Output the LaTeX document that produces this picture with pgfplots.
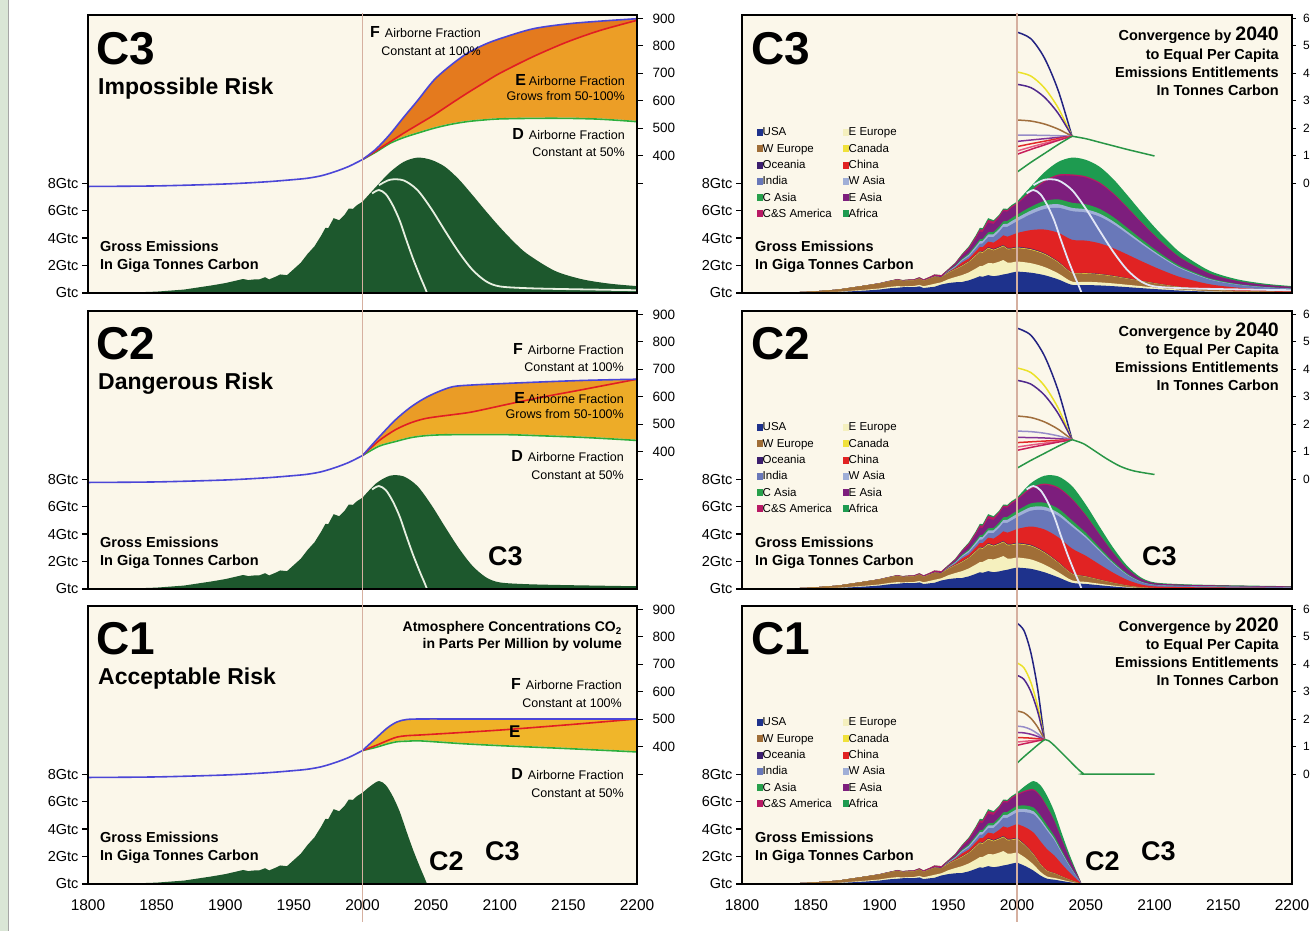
\documentclass[border=0pt]{standalone}
\usepackage{pgfplots}
\pgfplotsset{compat=1.18}
\usepackage{pgfplotstable}
\usepackage{fontspec}
\setmainfont{Liberation Sans}
\newcommand{\fs}[1]{\fontsize{#1}{#1}\selectfont}

\definecolor{cream}{RGB}{251,247,234}
\definecolor{bgg}{RGB}{218,230,214}
\definecolor{emg}{RGB}{29,88,45}
\definecolor{lF}{RGB}{75,70,215}
\definecolor{lE}{RGB}{225,30,35}
\definecolor{lD}{RGB}{45,175,60}
\definecolor{orUpA}{RGB}{228,122,30}
\definecolor{orLoA}{RGB}{236,158,38}
\definecolor{orUpB}{RGB}{234,156,38}
\definecolor{orLoB}{RGB}{237,172,40}
\definecolor{orUpC}{RGB}{239,178,40}
\definecolor{orLoC}{RGB}{240,182,42}
\definecolor{ylin}{RGB}{214,176,160}
\definecolor{wl}{RGB}{232,240,225}
\definecolor{wlr}{RGB}{226,230,246}
\definecolor{lay1}{RGB}{30,50,140}
\definecolor{lay2}{RGB}{245,240,190}
\definecolor{lay3}{RGB}{160,110,55}
\definecolor{lay4}{RGB}{240,225,60}
\definecolor{lay5}{RGB}{60,30,110}
\definecolor{lay6}{RGB}{225,35,35}
\definecolor{lay7}{RGB}{105,120,185}
\definecolor{lay8}{RGB}{160,175,215}
\definecolor{lay9}{RGB}{40,160,75}
\definecolor{lay10}{RGB}{125,30,125}
\definecolor{lay11}{RGB}{185,25,100}
\definecolor{lay12}{RGB}{30,155,80}
\definecolor{pcA}{RGB}{35,35,130}
\definecolor{pcB}{RGB}{235,225,40}
\definecolor{pcC}{RGB}{80,40,140}
\definecolor{pcD}{RGB}{160,110,60}
\definecolor{pcE}{RGB}{150,140,200}
\definecolor{pcF}{RGB}{130,50,150}
\definecolor{pcG}{RGB}{225,40,40}
\definecolor{pcH}{RGB}{230,90,130}
\definecolor{pcI}{RGB}{200,30,90}
\definecolor{pcJ}{RGB}{40,150,70}

% cumulative stacked emissions (Gtc), historical
\pgfplotstableread{
year L1 L2 L3 L4 L5 L6 L7 L8 L9 L10 L11 L12
1800 0 0 0 0 0 0 0 0 0 0 0 0
1830 0.005 0.008 0.03 0.03 0.03 0.03 0.03 0.03 0.03 0.03 0.03 0.03
1850 0.025 0.035 0.10 0.10 0.10 0.10 0.10 0.10 0.10 0.10 0.10 0.10
1870 0.07 0.09 0.25 0.25 0.25 0.25 0.25 0.25 0.25 0.25 0.25 0.25
1890 0.18 0.24 0.55 0.55 0.55 0.55 0.55 0.55 0.55 0.55 0.55 0.55
1900 0.25 0.33 0.70 0.70 0.70 0.70 0.70 0.70 0.70 0.72 0.72 0.72
1907 0.34 0.44 0.85 0.85 0.85 0.85 0.85 0.85 0.85 0.88 0.88 0.88
1913 0.38 0.50 0.96 0.96 0.96 0.96 0.96 0.96 0.96 0.99 1.02 1.02
1917 0.42 0.48 0.88 0.88 0.88 0.88 0.88 0.88 0.88 0.91 0.94 0.94
1920 0.44 0.50 0.90 0.90 0.90 0.90 0.90 0.90 0.90 0.94 0.98 0.98
1925 0.42 0.51 0.92 0.92 0.92 0.92 0.92 0.92 0.92 0.96 1.00 1.00
1929 0.48 0.59 1.05 1.05 1.05 1.05 1.05 1.05 1.05 1.10 1.15 1.15
1932 0.36 0.49 0.89 0.89 0.89 0.89 0.89 0.89 0.89 0.94 0.99 0.99
1937 0.42 0.60 1.08 1.08 1.08 1.08 1.08 1.08 1.08 1.14 1.20 1.20
1940 0.45 0.67 1.19 1.19 1.19 1.19 1.19 1.19 1.19 1.27 1.35 1.35
1945 0.62 0.78 1.15 1.15 1.15 1.15 1.15 1.15 1.15 1.22 1.30 1.30
1950 0.72 1.00 1.46 1.49 1.51 1.53 1.56 1.59 1.62 1.68 1.73 1.75
1955 0.78 1.16 1.71 1.74 1.76 1.82 1.89 1.94 1.99 2.09 2.16 2.20
1960 0.80 1.30 1.95 1.99 2.02 2.22 2.34 2.42 2.50 2.70 2.80 2.85
1965 0.92 1.50 2.26 2.30 2.33 2.51 2.67 2.79 2.89 3.19 3.32 3.40
1970 1.10 1.78 2.70 2.75 2.79 3.03 3.23 3.39 3.51 3.96 4.11 4.20
1973 1.22 1.96 2.98 3.03 3.07 3.35 3.59 3.77 3.91 4.47 4.64 4.75
1975 1.18 1.97 2.92 2.97 3.01 3.34 3.61 3.79 3.94 4.44 4.61 4.72
1979 1.30 2.18 3.24 3.29 3.34 3.74 4.06 4.26 4.42 5.12 5.33 5.45
1983 1.22 2.16 3.10 3.15 3.20 3.67 4.08 4.28 4.45 5.03 5.20 5.30
1987 1.28 2.28 3.26 3.31 3.36 3.94 4.46 4.66 4.84 5.48 5.62 5.70
1990 1.35 2.40 3.40 3.45 3.50 4.20 4.82 5.02 5.22 5.95 6.07 6.15
1993 1.40 2.22 3.18 3.23 3.28 4.10 4.82 5.04 5.25 5.93 6.04 6.13
1996 1.48 2.22 3.19 3.24 3.29 4.21 4.99 5.23 5.45 6.20 6.31 6.40
2000 1.56 2.30 3.27 3.32 3.37 4.37 5.22 5.47 5.70 6.45 6.55 6.65
}\hist

% C3 future
\pgfplotstableread{
year L1 L2 L3 L4 L5 L6 L7 L8 L9 L10 L11 L12
2000 1.56 2.30 3.27 3.32 3.37 4.37 5.22 5.47 5.70 6.45 6.55 6.65
2010 1.479 2.173 3.141 3.190 3.240 4.582 5.734 5.999 6.273 7.315 7.423 7.75
2020 1.295 1.892 2.805 2.852 2.899 4.623 6.113 6.386 6.703 8.078 8.189 8.80
2030 0.988 1.428 2.219 2.259 2.300 4.387 6.204 6.467 6.819 8.519 8.628 9.55
2040 0.590 0.830 1.440 1.470 1.500 3.880 5.960 6.200 6.570 8.540 8.640 9.86
2050 0.580 0.816 1.416 1.445 1.475 3.817 5.864 6.099 6.463 8.401 8.500 9.70
2060 0.550 0.774 1.343 1.371 1.399 3.620 5.561 5.785 6.130 7.968 8.062 9.20
2070 0.496 0.698 1.212 1.237 1.262 3.266 5.017 5.219 5.530 7.189 7.273 8.30
2080 0.428 0.601 1.044 1.065 1.088 2.814 4.322 4.496 4.764 6.193 6.266 7.15
2090 0.356 0.500 0.869 0.887 0.905 2.341 3.597 3.741 3.964 5.153 5.214 5.95
2100 0.287 0.404 0.701 0.715 0.730 1.889 2.902 3.018 3.198 4.157 4.206 4.80
2110 0.224 0.315 0.548 0.559 0.570 1.476 2.267 2.358 2.499 3.248 3.286 3.75
2120 0.170 0.240 0.416 0.425 0.433 1.121 1.723 1.792 1.899 2.468 2.497 2.85
2140 0.097 0.136 0.237 0.241 0.246 0.637 0.979 1.019 1.079 1.403 1.420 1.62
2160 0.060 0.084 0.146 0.149 0.152 0.394 0.605 0.629 0.666 0.866 0.876 1.00
2180 0.041 0.057 0.099 0.101 0.103 0.268 0.411 0.428 0.453 0.589 0.596 0.68
2200 0.030 0.042 0.073 0.075 0.076 0.197 0.302 0.314 0.333 0.433 0.438 0.50
}\futA

% C2 future
\pgfplotstableread{
year L1 L2 L3 L4 L5 L6 L7 L8 L9 L10 L11 L12
2000 1.56 2.30 3.27 3.32 3.37 4.37 5.22 5.47 5.70 6.45 6.55 6.65
2010 1.470 2.159 3.121 3.169 3.219 4.552 5.697 5.961 6.232 7.268 7.375 7.70
2020 1.214 1.774 2.630 2.674 2.718 4.334 5.731 5.987 6.284 7.574 7.677 8.25
2030 0.849 1.226 1.906 1.939 1.975 3.767 5.327 5.553 5.855 7.314 7.409 8.20
2040 0.449 0.631 1.095 1.118 1.141 2.951 4.534 4.716 4.997 6.496 6.572 7.50
2050 0.368 0.517 0.898 0.916 0.935 2.420 3.718 3.867 4.098 5.327 5.389 6.15
2060 0.272 0.383 0.664 0.678 0.692 1.790 2.750 2.861 3.032 3.941 3.987 4.55
2070 0.179 0.252 0.438 0.447 0.456 1.181 1.814 1.886 1.999 2.598 2.629 3.00
2080 0.102 0.143 0.248 0.253 0.259 0.669 1.028 1.069 1.133 1.472 1.490 1.70
2090 0.051 0.071 0.124 0.127 0.129 0.334 0.514 0.534 0.566 0.736 0.745 0.85
2100 0.029 0.040 0.070 0.072 0.073 0.189 0.290 0.302 0.320 0.416 0.421 0.48
2120 0.021 0.029 0.051 0.052 0.053 0.138 0.212 0.220 0.233 0.303 0.307 0.35
2150 0.017 0.024 0.041 0.042 0.043 0.110 0.169 0.176 0.187 0.243 0.245 0.28
2200 0.012 0.017 0.029 0.030 0.030 0.079 0.121 0.126 0.133 0.173 0.175 0.20
}\futB

% C1 future
\pgfplotstableread{
year L1 L2 L3 L4 L5 L6 L7 L8 L9 L10 L11 L12
2000 1.56 2.30 3.27 3.32 3.37 4.37 5.22 5.47 5.70 6.45 6.55 6.65
2006 1.303 1.912 2.774 2.818 2.863 4.133 5.225 5.466 5.719 6.712 6.810 7.15
2012 0.973 1.416 2.132 2.168 2.205 3.742 5.075 5.297 5.570 6.807 6.899 7.50
2017 0.619 0.888 1.425 1.451 1.478 3.118 4.548 4.737 5.003 6.348 6.427 7.20
2022 0.383 0.538 0.934 0.954 0.973 2.518 3.869 4.024 4.264 5.543 5.608 6.40
2027 0.317 0.446 0.774 0.790 0.806 2.086 3.204 3.333 3.531 4.590 4.644 5.30
2032 0.230 0.324 0.562 0.574 0.586 1.515 2.327 2.421 2.565 3.334 3.374 3.85
2037 0.147 0.206 0.358 0.365 0.373 0.964 1.481 1.541 1.632 2.122 2.147 2.45
2042 0.072 0.101 0.175 0.179 0.183 0.472 0.725 0.755 0.800 1.039 1.052 1.20
2045 0.030 0.042 0.073 0.075 0.076 0.197 0.302 0.314 0.333 0.433 0.438 0.50
2047 0 0 0 0 0 0 0 0 0 0 0 0
}\futC

\pgfplotstableread{
year v
2007 7.25
2012 7.5
2017 7.2
2022 6.4
2027 5.3
2032 3.85
2037 2.45
2042 1.2
2045 0.5
2047 0
}\wlOne
\pgfplotstableread{
year v
2012 7.85
2020 8.25
2030 8.2
2040 7.5
2050 6.15
2060 4.55
2070 3.0
2080 1.7
2090 0.85
2100 0.48
2120 0.35
2150 0.28
2200 0.2
}\wlTwo

% CO2 ppm
\pgfplotstableread{
year ppm
1800 288
1850 290
1900 297
1930 305
1950 313
1960 318
1970 327
1980 342
1990 361
2000 386
}\ppmHist
\pgfplotstableread{
year F E D
2000 386 386 386
2010 425 418 414
2020 478 450 445
2030 540 482 466
2040 600 512 482
2052 675 548 500
2064 728 588 514
2076 772 627 524
2088 803 664 530
2100 826 700 534
2124 862 760 536
2149 880 814 536
2173 890 856 533
2200 899 893 524
}\ppmThree
\pgfplotstableread{
year F E D
2000 386 386 386
2012 453 440 420
2024 516 480 437
2035 562 505 451
2045 594 520 458
2055 618 528 461
2066 637 535 462
2080 643 545 462
2106 649 573 462
2130 654 598 458
2157 659 623 453
2180 662 645 447
2200 664 664 441
}\ppmTwo
\pgfplotstableread{
year F E D
2000 386 386 386
2010 432 405 398
2018 468 422 410
2025 490 435 418
2032 499 440 420
2043 501 443 421
2073 501 452 411
2104 501 462 403
2150 501 480 393
2200 501 501 381
}\ppmOne

% per capita (tonnes carbon)
\pgfplotstableread{
year A B C D E F G H I J
2000 5.5 4.05 3.6 2.3 1.75 1.52 1.33 1.17 1.05 0.40
2010 5.263 3.904 3.482 2.263 1.748 1.571 1.433 1.316 1.228 0.754
2020 4.553 3.465 3.128 2.153 1.740 1.619 1.528 1.451 1.393 1.081
2030 3.368 2.734 2.537 1.968 1.728 1.666 1.623 1.586 1.558 1.409
2040 1.71 1.71 1.71 1.71 1.71 1.71 1.71 1.71 1.71 1.71
}\pcThree
\pgfplotstableread{
year v
2040 1.71
2050 1.62
2060 1.49
2070 1.36
2080 1.23
2090 1.11
2100 0.99
}\ctThree
\pgfplotstableread{
year A B C D E F G H I J
2000 5.5 4.05 3.6 2.3 1.75 1.52 1.33 1.17 1.05 0.40
2010 5.246 3.887 3.465 2.246 1.731 1.515 1.360 1.243 1.155 0.681
2020 4.485 3.398 3.060 2.085 1.673 1.500 1.387 1.310 1.253 0.941
2030 3.216 2.582 2.385 1.816 1.576 1.475 1.415 1.378 1.350 1.201
2040 1.44 1.44 1.44 1.44 1.44 1.44 1.44 1.44 1.44 1.44
}\pcTwo
\pgfplotstableread{
year v
2040 1.44
2048 1.30
2055 1.08
2065 0.75
2075 0.47
2085 0.30
2100 0.17
}\ctTwo
\pgfplotstableread{
year A B C D E F G H I J
2000 5.5 4.05 3.6 2.3 1.75 1.52 1.33 1.17 1.05 0.40
2005 5.235 3.876 3.454 2.235 1.719 1.504 1.326 1.194 1.107 0.632
2010 4.44 3.353 3.015 2.04 1.628 1.455 1.313 1.217 1.159 0.847
2015 3.115 2.481 2.284 1.715 1.474 1.374 1.291 1.239 1.212 1.062
2020 1.26 1.26 1.26 1.26 1.26 1.26 1.26 1.26 1.26 1.26
}\pcOne
\pgfplotstableread{
year v
2020 1.26
2023 1.22
2027 1.05
2032 0.80
2038 0.50
2044 0.20
2048 0.03
2051 0
2100 0
}\ctOne

\pgfplotsset{
  gtc/.style={
    scale only axis, width=#1, height=278pt,
    xmin=1800, xmax=2200, ymin=0, ymax=20.25,
    axis line style={line width=2.2pt, black},
    axis on top,
    ytick={0,2,4,6,8}, yticklabels={Gtc,2Gtc,4Gtc,6Gtc,8Gtc},
    ytick pos=left, yticklabel pos=left,
    xtick=\empty,
    tick align=outside, major tick length=6pt,
    tick style={black, line width=1.2pt},
    yticklabel style={font=\fs{14.5}, text=black},
  },
  xlab/.style={
    xtick={1800,1850,...,2200},
    xticklabels={1800,1850,1900,1950,2000,2050,2100,2150,2200},
    xtick pos=left, xticklabel pos=left,
    xtick style={draw=none},
    xticklabel style={font=\fs{15.5}, text=black, yshift=-6pt},
  },
  rax/.style={
    scale only axis, width=#1, height=278pt,
    xmin=1800, xmax=2200,
    axis background/.style={fill=cream},
    axis line style={line width=2.2pt, black},
    xtick=\empty,
    ytick pos=right, yticklabel pos=right,
    tick align=outside, major tick length=6pt,
    tick style={black, line width=1.2pt},
    yticklabel style={font=\fs{13.5}, text=black, xshift=6pt},
  },
  ppm/.style={rax=#1, ymin=-100, ymax=912.5, ytick={300,400,...,900}, yticklabels={,400,500,600,700,800,900}},
  pcx/.style={rax=#1, ymin=-4, ymax=6.125, ytick={0,1,...,6}, yticklabels={0,1,2,3,4,5,6},
    major tick length=4pt,
    yticklabel style={font=\fs{12}, text=black, xshift=-2.5pt}},
}

\newcommand{\reglegend}[2]{%
 \begin{scope}[shift={(#1,#2)}, every node/.style={anchor=base west, inner sep=0pt, font=\fs{11.5}}]
  \node at (0,0) {\textcolor{lay1}{\rule{5.5pt}{7pt}}USA};
  \node at (86,0) {\textcolor{lay2}{\rule{5.5pt}{7pt}}E Europe};
  \node at (0,-16.3) {\textcolor{lay3}{\rule{5.5pt}{7pt}}W Europe};
  \node at (86,-16.3) {\textcolor{lay4}{\rule{5.5pt}{7pt}}Canada};
  \node at (0,-32.6) {\textcolor{lay5}{\rule{5.5pt}{7pt}}Oceania};
  \node at (86,-32.6) {\textcolor{lay6}{\rule{5.5pt}{7pt}}China};
  \node at (0,-48.9) {\textcolor{lay7}{\rule{5.5pt}{7pt}}India};
  \node at (86,-48.9) {\textcolor{lay8}{\rule{5.5pt}{7pt}}W Asia};
  \node at (0,-65.2) {\textcolor{lay9}{\rule{5.5pt}{7pt}}C Asia};
  \node at (86,-65.2) {\textcolor{lay10}{\rule{5.5pt}{7pt}}E Asia};
  \node at (0,-81.5) {\textcolor{lay11}{\rule{5.5pt}{7pt}}C\&S America};
  \node at (86,-81.5) {\textcolor{lay12}{\rule{5.5pt}{7pt}}Africa};
 \end{scope}}

\begin{document}
\begin{tikzpicture}[x=1pt,y=1pt]
\useasboundingbox (0,0) rectangle (1311,931);
\fill[white] (0,0) rectangle (1311,931);
\fill[bgg] (0,0) rectangle (8.5,931);
\draw[black!35, line width=0.8pt] (8.8,0) -- (8.8,931);

% ================= LEFT COLUMN =================
% --- C3 top-left
\begin{axis}[ppm=549pt, at={(88pt,638pt)}, anchor=south west]
 \addplot[fill=orUpA, draw=none, smooth] table[x=year,y=F]{\ppmThree}\closedcycle;
 \addplot[fill=orLoA, draw=none, smooth] table[x=year,y=E]{\ppmThree}\closedcycle;
 \addplot[fill=cream, draw=cream, line width=1.5pt, smooth] table[x=year,y=D]{\ppmThree}\closedcycle;
 \addplot[lD, line width=1.6pt, smooth] table[x=year,y=D]{\ppmThree};
 \addplot[lE, line width=1.6pt, smooth] table[x=year,y=E]{\ppmThree};
 \addplot[lF, line width=1.6pt, smooth] table[x=year,y=ppm]{\ppmHist};
 \addplot[lF, line width=1.6pt, smooth] table[x=year,y=F]{\ppmThree};
\end{axis}
\begin{axis}[gtc=549pt, at={(88pt,638pt)}, anchor=south west]
 \addplot[fill=emg, draw=none] table[x=year,y=L12]{\hist}\closedcycle;
 \addplot[fill=emg, draw=none, smooth] table[x=year,y=L12]{\futA}\closedcycle;
 \addplot[wl, line width=1.8pt, smooth] table[x=year,y=v]{\wlOne};
 \addplot[wl, line width=1.8pt, smooth] table[x=year,y=v]{\wlTwo};
\end{axis}

% --- C2 middle-left
\begin{axis}[ppm=549pt, at={(88pt,342pt)}, anchor=south west]
 \addplot[fill=orUpB, draw=none, smooth] table[x=year,y=F]{\ppmTwo}\closedcycle;
 \addplot[fill=orLoB, draw=none, smooth] table[x=year,y=E]{\ppmTwo}\closedcycle;
 \addplot[fill=cream, draw=cream, line width=1.5pt, smooth] table[x=year,y=D]{\ppmTwo}\closedcycle;
 \addplot[lD, line width=1.6pt, smooth] table[x=year,y=D]{\ppmTwo};
 \addplot[lE, line width=1.6pt, smooth] table[x=year,y=E]{\ppmTwo};
 \addplot[lF, line width=1.6pt, smooth] table[x=year,y=ppm]{\ppmHist};
 \addplot[lF, line width=1.6pt, smooth] table[x=year,y=F]{\ppmTwo};
\end{axis}
\begin{axis}[gtc=549pt, at={(88pt,342pt)}, anchor=south west]
 \addplot[fill=emg, draw=none] table[x=year,y=L12]{\hist}\closedcycle;
 \addplot[fill=emg, draw=none, smooth] table[x=year,y=L12]{\futB}\closedcycle;
 \addplot[wl, line width=1.8pt, smooth] table[x=year,y=v]{\wlOne};
\end{axis}

% --- C1 bottom-left
\begin{axis}[ppm=549pt, at={(88pt,47pt)}, anchor=south west]
 \addplot[fill=orUpC, draw=none, smooth] table[x=year,y=F]{\ppmOne}\closedcycle;
 \addplot[fill=orLoC, draw=none, smooth] table[x=year,y=E]{\ppmOne}\closedcycle;
 \addplot[fill=cream, draw=cream, line width=1.5pt, smooth] table[x=year,y=D]{\ppmOne}\closedcycle;
 \addplot[lD, line width=1.6pt, smooth] table[x=year,y=D]{\ppmOne};
 \addplot[lE, line width=1.6pt, smooth] table[x=year,y=E]{\ppmOne};
 \addplot[lF, line width=1.6pt, smooth] table[x=year,y=ppm]{\ppmHist};
 \addplot[lF, line width=1.6pt, smooth] table[x=year,y=F]{\ppmOne};
\end{axis}
\begin{axis}[gtc=549pt, xlab, at={(88pt,47pt)}, anchor=south west]
 \addplot[fill=emg, draw=none] table[x=year,y=L12]{\hist}\closedcycle;
 \addplot[fill=emg, draw=none, smooth] table[x=year,y=L12]{\futC}\closedcycle;
\end{axis}

% ================= RIGHT COLUMN =================
% --- C3 top-right
\begin{axis}[pcx=550pt, at={(742pt,638pt)}, anchor=south west]
 \pgfplotsinvokeforeach{A,B,C,D,E,F,G,H,I,J}{
  \addplot[pc#1, line width=1.5pt, smooth] table[x=year,y=#1]{\pcThree};
 }
 \addplot[pcJ, line width=1.5pt, smooth] table[x=year,y=v]{\ctThree};
\end{axis}
\begin{axis}[gtc=550pt, at={(742pt,638pt)}, anchor=south west]
 \pgfplotsinvokeforeach{12,11,10,9,8,7,6,5,4,3,2,1}{
  \addplot[fill=lay#1, draw=none] table[x=year,y=L#1]{\hist}\closedcycle;
  \addplot[fill=lay#1, draw=none, smooth] table[x=year,y=L#1]{\futA}\closedcycle;
 }
 \addplot[wlr, line width=1.8pt, smooth] table[x=year,y=v]{\wlOne};
 \addplot[wlr, line width=1.8pt, smooth] table[x=year,y=v]{\wlTwo};
\end{axis}

% --- C2 middle-right
\begin{axis}[pcx=550pt, at={(742pt,342pt)}, anchor=south west]
 \pgfplotsinvokeforeach{A,B,C,D,E,F,G,H,I,J}{
  \addplot[pc#1, line width=1.5pt, smooth] table[x=year,y=#1]{\pcTwo};
 }
 \addplot[pcJ, line width=1.5pt, smooth] table[x=year,y=v]{\ctTwo};
\end{axis}
\begin{axis}[gtc=550pt, at={(742pt,342pt)}, anchor=south west]
 \pgfplotsinvokeforeach{12,11,10,9,8,7,6,5,4,3,2,1}{
  \addplot[fill=lay#1, draw=none] table[x=year,y=L#1]{\hist}\closedcycle;
  \addplot[fill=lay#1, draw=none, smooth] table[x=year,y=L#1]{\futB}\closedcycle;
 }
 \addplot[wlr, line width=1.8pt, smooth] table[x=year,y=v]{\wlOne};
\end{axis}

% --- C1 bottom-right
\begin{axis}[pcx=550pt, at={(742pt,47pt)}, anchor=south west]
 \pgfplotsinvokeforeach{A,B,C,D,E,F,G,H,I,J}{
  \addplot[pc#1, line width=1.5pt, smooth] table[x=year,y=#1]{\pcOne};
 }
 \addplot[pcJ, line width=1.5pt, smooth] table[x=year,y=v]{\ctOne};
\end{axis}
\begin{axis}[gtc=550pt, xlab, at={(742pt,47pt)}, anchor=south west]
 \pgfplotsinvokeforeach{12,11,10,9,8,7,6,5,4,3,2,1}{
  \addplot[fill=lay#1, draw=none] table[x=year,y=L#1]{\hist}\closedcycle;
  \addplot[fill=lay#1, draw=none, smooth] table[x=year,y=L#1]{\futC}\closedcycle;
 }
\end{axis}

% year-2000 reference lines
\draw[ylin, line width=1.2pt] (362.5,{931-13}) -- (362.5,{931-922});
\draw[ylin, line width=1.2pt] (1017,{931-13}) -- (1017,{931-922});

% ================= TEXT =================
\begin{scope}[every node/.style={inner sep=0pt, text=black}]
% top-left
\node[anchor=base west, font=\fs{46}\bfseries] at (96,{931-65}) {C3};
\node[anchor=base west, font=\fs{23}\bfseries] at (98,{931-95}) {Impossible Risk};
\node[anchor=base west, font=\fs{14.5}\bfseries] at (100,{931-252}) {Gross Emissions};
\node[anchor=base west, font=\fs{14.5}\bfseries] at (100,{931-270}) {In Giga Tonnes Carbon};
\node[anchor=base east, font=\fs{12.5}] at (481,{931-38}) {{\fs{16}\bfseries F}\hspace{5pt}Airborne Fraction};
\node[anchor=base east, font=\fs{12.5}] at (481,{931-56}) {Constant at 100\%};
\node[anchor=base east, font=\fs{12.5}] at (625,{931-86}) {{\fs{16}\bfseries E}\hspace{3pt}Airborne Fraction};
\node[anchor=base east, font=\fs{12.5}] at (625,{931-101}) {Grows from 50-100\%};
\node[anchor=base east, font=\fs{12.5}] at (625,{931-140}) {{\fs{16}\bfseries D}\hspace{5pt}Airborne Fraction};
\node[anchor=base east, font=\fs{12.5}] at (625,{931-157}) {Constant at 50\%};
% middle-left
\node[anchor=base west, font=\fs{46}\bfseries] at (96,{931-360}) {C2};
\node[anchor=base west, font=\fs{23}\bfseries] at (98,{931-390}) {Dangerous Risk};
\node[anchor=base west, font=\fs{14.5}\bfseries] at (100,{931-548}) {Gross Emissions};
\node[anchor=base west, font=\fs{14.5}\bfseries] at (100,{931-566}) {In Giga Tonnes Carbon};
\node[anchor=base east, font=\fs{12.5}] at (624,{931-355}) {{\fs{16}\bfseries F}\hspace{5pt}Airborne Fraction};
\node[anchor=base east, font=\fs{12.5}] at (624,{931-372}) {Constant at 100\%};
\node[anchor=base east, font=\fs{12.5}] at (624,{931-404}) {{\fs{16}\bfseries E}\hspace{3pt}Airborne Fraction};
\node[anchor=base east, font=\fs{12.5}] at (624,{931-419}) {Grows from 50-100\%};
\node[anchor=base east, font=\fs{12.5}] at (624,{931-462}) {{\fs{16}\bfseries D}\hspace{5pt}Airborne Fraction};
\node[anchor=base east, font=\fs{12.5}] at (624,{931-480}) {Constant at 50\%};
\node[anchor=base west, font=\fs{27}\bfseries] at (488,{931-566}) {C3};
% bottom-left
\node[anchor=base west, font=\fs{46}\bfseries] at (96,{931-655}) {C1};
\node[anchor=base west, font=\fs{23}\bfseries] at (98,{931-685}) {Acceptable Risk};
\node[anchor=base west, font=\fs{14.5}\bfseries] at (100,{931-843}) {Gross Emissions};
\node[anchor=base west, font=\fs{14.5}\bfseries] at (100,{931-861}) {In Giga Tonnes Carbon};
\node[anchor=base east, font=\fs{14}\bfseries] at (622,{931-632}) {Atmosphere Concentrations CO\textsubscript{2}};
\node[anchor=base east, font=\fs{14}\bfseries] at (622,{931-649}) {in Parts Per Million by volume};
\node[anchor=base east, font=\fs{12.5}] at (622,{931-690}) {{\fs{16}\bfseries F}\hspace{5pt}Airborne Fraction};
\node[anchor=base east, font=\fs{12.5}] at (622,{931-708}) {Constant at 100\%};
\node[anchor=base west, font=\fs{17}\bfseries] at (509,{931-738}) {E};
\node[anchor=base east, font=\fs{12.5}] at (624,{931-780}) {{\fs{16}\bfseries D}\hspace{5pt}Airborne Fraction};
\node[anchor=base east, font=\fs{12.5}] at (624,{931-798}) {Constant at 50\%};
\node[anchor=base west, font=\fs{27}\bfseries] at (429,{931-871}) {C2};
\node[anchor=base west, font=\fs{27}\bfseries] at (485,{931-861}) {C3};

% top-right
\node[anchor=base west, font=\fs{46}\bfseries] at (751,{931-65}) {C3};
\node[anchor=base east, font=\fs{14.5}\bfseries] at (1279,{931-41}) {Convergence by {\fs{19.5}2040}};
\node[anchor=base east, font=\fs{14.5}\bfseries] at (1279,{931-60}) {to Equal Per Capita};
\node[anchor=base east, font=\fs{14.5}\bfseries] at (1279,{931-78}) {Emissions Entitlements};
\node[anchor=base east, font=\fs{14.5}\bfseries] at (1279,{931-96}) {In Tonnes Carbon};
\node[anchor=base west, font=\fs{14.5}\bfseries] at (755,{931-252}) {Gross Emissions};
\node[anchor=base west, font=\fs{14.5}\bfseries] at (755,{931-270}) {In Giga Tonnes Carbon};
% middle-right
\node[anchor=base west, font=\fs{46}\bfseries] at (751,{931-360}) {C2};
\node[anchor=base east, font=\fs{14.5}\bfseries] at (1279,{931-337}) {Convergence by {\fs{19.5}2040}};
\node[anchor=base east, font=\fs{14.5}\bfseries] at (1279,{931-355}) {to Equal Per Capita};
\node[anchor=base east, font=\fs{14.5}\bfseries] at (1279,{931-373}) {Emissions Entitlements};
\node[anchor=base east, font=\fs{14.5}\bfseries] at (1279,{931-391}) {In Tonnes Carbon};
\node[anchor=base west, font=\fs{14.5}\bfseries] at (755,{931-548}) {Gross Emissions};
\node[anchor=base west, font=\fs{14.5}\bfseries] at (755,{931-566}) {In Giga Tonnes Carbon};
\node[anchor=base west, font=\fs{27}\bfseries] at (1142,{931-566}) {C3};
% bottom-right
\node[anchor=base west, font=\fs{46}\bfseries] at (751,{931-655}) {C1};
\node[anchor=base east, font=\fs{14.5}\bfseries] at (1279,{931-632}) {Convergence by {\fs{19.5}2020}};
\node[anchor=base east, font=\fs{14.5}\bfseries] at (1279,{931-650}) {to Equal Per Capita};
\node[anchor=base east, font=\fs{14.5}\bfseries] at (1279,{931-668}) {Emissions Entitlements};
\node[anchor=base east, font=\fs{14.5}\bfseries] at (1279,{931-686}) {In Tonnes Carbon};
\node[anchor=base west, font=\fs{14.5}\bfseries] at (755,{931-843}) {Gross Emissions};
\node[anchor=base west, font=\fs{14.5}\bfseries] at (755,{931-861}) {In Giga Tonnes Carbon};
\node[anchor=base west, font=\fs{27}\bfseries] at (1085,{931-871}) {C2};
\node[anchor=base west, font=\fs{27}\bfseries] at (1141,{931-861}) {C3};
\end{scope}

\reglegend{757}{{931-136}}
\reglegend{757}{{931-431}}
\reglegend{757}{{931-726}}

\end{tikzpicture}
\end{document}
